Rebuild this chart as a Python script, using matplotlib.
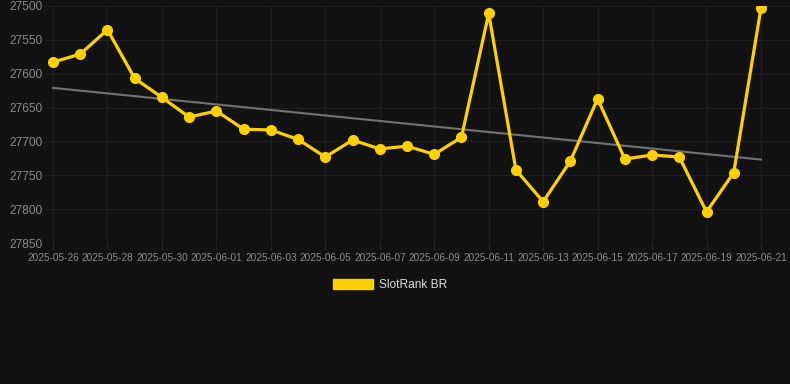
import numpy as np
import matplotlib
matplotlib.use("Agg")
import matplotlib.pyplot as plt
from matplotlib.patches import Patch

plt.rcParams['font.family'] = ['Liberation Sans', 'DejaVu Sans']

dates = ["2025-05-26", "2025-05-27", "2025-05-28", "2025-05-29", "2025-05-30", "2025-05-31",
         "2025-06-01", "2025-06-02", "2025-06-03", "2025-06-04", "2025-06-05", "2025-06-06",
         "2025-06-07", "2025-06-08", "2025-06-09", "2025-06-10", "2025-06-11", "2025-06-12",
         "2025-06-13", "2025-06-14", "2025-06-15", "2025-06-16", "2025-06-17", "2025-06-18",
         "2025-06-19", "2025-06-20", "2025-06-21"]
rank = [27583, 27571, 27535, 27607, 27635, 27664, 27655, 27682, 27683, 27697, 27723, 27698,
        27711, 27707, 27719, 27694, 27511, 27742, 27789, 27729, 27637, 27726, 27720, 27723,
        27804, 27746, 27503]
y_ticks = [27500, 27550, 27600, 27650, 27700, 27750, 27800, 27850]
series_name = "SlotRank BR"

BG = "#121212"
GOLD = "#FFD000"

fig = plt.figure(figsize=(7.9, 3.84), dpi=100, facecolor=BG)
ax = fig.add_axes([45/790, 1-243/384, 745/790, (243-6)/384])
ax.set_facecolor(BG)

x = np.arange(len(dates))
coef = np.polyfit(x, rank, 1)
ax.plot(x, np.polyval(coef, x), color="#737373", lw=1.5, zorder=2)
ax.plot(x, rank, color=GOLD, lw=2.3, marker="o", markersize=7, zorder=3,
        solid_joinstyle="round")

ax.set_ylim(27850, 27500)
ax.set_yticks(y_ticks)
ax.set_yticklabels([str(v) for v in y_ticks])
ax.set_xlim(-8/27.23, (790-53)/27.23)
ax.set_xticks(x[::2])
ax.set_xticklabels(dates[::2])

ax.grid(True, color="#1f1f1f", lw=0.8)
ax.set_axisbelow(True)
for s in ax.spines.values():
    s.set_visible(False)
ax.tick_params(axis="y", length=0, pad=2, labelsize=8.6, labelcolor="#8c8c8c")
ax.tick_params(axis="x", length=5, color="#262626", pad=2, labelsize=7.2, labelcolor="#8c8c8c")

fig.legend(handles=[Patch(facecolor=GOLD, edgecolor=GOLD)], labels=[series_name],
           loc="center", bbox_to_anchor=(390/790, 1-285/384), frameon=False,
           handlelength=3.3, handleheight=0.9, handletextpad=0.5,
           fontsize=8.6, labelcolor="#dddddd")

fig.savefig("out.png", dpi=100, facecolor=BG)
